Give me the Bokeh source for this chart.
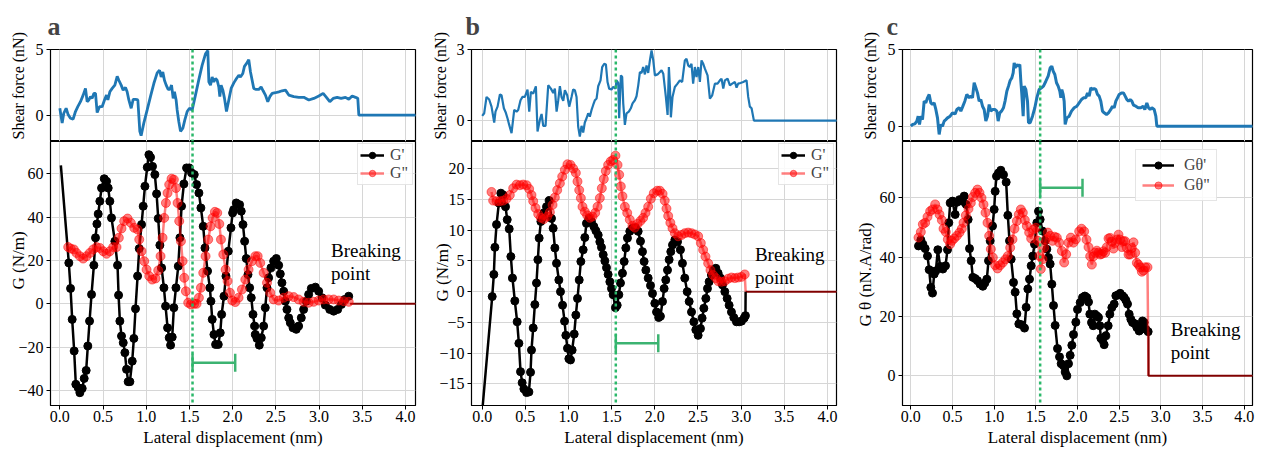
from bokeh.plotting import figure
from bokeh.layouts import row, column
from bokeh.models import (Range1d, FixedTicker, Span, Whisker, TeeHead, ColumnDataSource,
                          Legend, LegendItem, Label, Title, CustomJSTickFormatter)
from bokeh.embed import file_html
from bokeh.resources import INLINE

# ---------------- data ----------------
x_ticks = [0.0, 0.5, 1.0, 1.5, 2.0, 2.5, 3.0, 3.5, 4.0]

# panel a : shear force
sa_x = [0.0,0.027,0.046,0.073,0.097,0.123,0.154,0.181,0.208,0.239,
        0.270,0.297,0.316,0.336,0.355,0.374,0.394,0.413,0.432,0.459,
        0.490,0.517,0.540,0.556,0.579,0.606,0.637,0.664,0.683,0.710,
        0.733,0.760,0.779,0.799,0.826,0.849,0.876,0.903,0.926,0.941,
        0.972,1.011,1.049,1.088,1.127,1.154,1.173,1.192,1.211,1.231,
        1.254,1.273,1.293,1.312,1.327,1.346,1.358,1.377,1.397,1.424,
        1.447,1.474,1.501,1.532,1.570,1.609,1.647,1.686,1.713,1.725,
        1.744,1.763,1.782,1.802,1.821,1.840,1.852,1.867,1.887,1.906,
        1.929,1.956,1.983,2.014,2.045,2.072,2.091,2.118,2.137,2.160,
        2.187,2.207,2.226,2.245,2.272,2.303,2.330,2.353,2.380,2.407,
        2.431,2.458,2.496,2.535,2.573,2.612,2.650,2.708,2.766,2.824,
        2.882,2.940,2.998,3.048,3.086,3.125,3.164,3.210,3.256,3.306,
        3.345,3.384,3.422,3.449,3.461,4.2]
sa_y = [0.53,-0.60,0.15,0.53,0.03,-0.23,-0.30,0.28,0.65,1.03,
        1.53,2.04,1.03,1.16,1.41,1.28,1.66,1.66,0.20,0.65,
        0.65,1.16,1.53,1.16,1.78,2.04,2.29,2.96,2.66,2.29,
        1.91,2.11,1.78,1.16,0.53,1.21,1.21,1.16,-1.23,-1.56,
        -0.60,0.40,1.41,2.41,3.22,3.42,2.91,3.29,2.66,2.29,
        1.96,1.96,2.29,1.28,1.78,1.16,0.40,-0.48,-1.23,-0.98,
        -0.35,0.28,0.53,0.40,1.53,2.71,3.79,4.67,4.92,2.54,
        2.29,2.91,2.54,2.79,2.66,2.16,1.41,2.29,1.91,1.28,
        0.28,1.16,2.04,2.46,2.79,3.04,2.91,3.17,3.72,3.92,
        4.22,3.29,2.66,2.04,1.96,1.96,2.16,1.86,1.53,1.03,
        1.41,1.66,1.71,1.78,1.86,1.91,1.53,1.41,1.36,1.36,
        1.16,1.28,1.46,1.66,1.36,1.03,1.28,1.36,1.28,1.36,
        1.21,1.46,1.36,1.28,0.0,0.0]

# panel a : G' and G''
ga1_lead_x = [0.012]
ga1_lead_y = [64.0]
ga1_x = [0.104,0.124,0.143,0.166,0.185,0.212,0.232,0.259,0.282,0.305,
         0.324,0.344,0.367,0.394,0.413,0.429,0.444,0.463,0.483,0.514,
         0.541,0.560,0.579,0.598,0.637,0.668,0.680,0.695,0.714,0.734,
         0.753,0.772,0.791,0.811,0.838,0.857,0.876,0.900,0.919,0.946,
         0.965,0.985,1.012,1.031,1.050,1.073,1.100,1.120,1.139,1.158,
         1.178,1.205,1.224,1.247,1.266,1.282,1.301,1.320,1.344,1.371,
         1.390,1.409,1.436,1.467,1.498,1.525,1.556,1.583,1.610,1.633,
         1.660,1.680,1.710,1.737,1.749,1.764,1.784,1.803,1.834,1.857,
         1.873,1.900,1.923,1.950,1.981,2.000,
         2.012,2.042,2.081,2.100,2.120,2.139,2.158,2.178,2.197,2.216,
         2.236,2.255,2.263,2.282,2.309,2.332,2.359,2.378,2.398,2.417,
         2.444,2.475,2.506,2.533,2.552,2.571,2.591,2.610,2.629,2.649,
         2.668,2.699,2.737,2.764,2.795,2.822,2.853,2.880,2.911,2.958,
         2.996,3.035,3.073,3.124,3.170,3.216,3.259,3.297,3.344]
ga1_y = [18.9,7.1,-7.2,-21.8,-37.2,-38.8,-41.1,-39.1,-34.5,-30.8,
         -19.5,-8.0,4.3,17.8,30.5,36.9,41.5,47.4,53.5,57.8,
         56.6,53.5,47.4,39.7,28.9,17.8,4.0,-8.0,-14.9,-18.0,
         -22.6,-30.3,-36.0,-36.0,-26.5,-16.0,-2.3,12.8,25.5,36.6,
         45.1,54.3,63.1,68.9,67.7,63.5,59.7,50.8,39.4,27.1,
         16.6,7.4,-1.1,-11.1,-15.7,-19.1,-15.4,-1.8,7.4,17.4,
         30.5,45.1,55.4,62.8,62.8,60.5,59.7,55.1,51.2,44.3,
         35.8,25.8,15.1,7.4,1.2,-7.2,-14.2,-18.8,-18.8,-13.4,
         -4.9,3.5,12.8,24.3,35.1,42.0,
         43.5,46.6,45.8,42.8,36.6,28.9,20.9,13.5,7.4,2.8,
         -4.9,-10.3,-14.2,-16.0,-19.1,-15.7,-10.3,-1.8,7.4,12.0,
         16.6,19.7,20.9,17.8,13.8,9.7,5.8,1.2,-2.6,-6.5,
         -8.8,-11.1,-11.8,-10.3,-6.5,-2.6,1.2,4.3,7.1,7.7,
         5.8,2.8,-0.6,-2.6,-3.4,-2.6,-0.3,2.0,3.5]
ga2_x = [0.097,0.127,0.162,0.193,0.232,0.270,0.309,0.347,0.386,0.425,
         0.463,0.502,0.541,0.579,0.618,0.656,0.683,0.714,0.745,0.784,
         0.822,0.861,0.900,0.919,0.946,0.977,1.004,1.035,1.069,1.108,
         1.139,1.166,1.189,1.208,1.228,1.247,1.266,1.293,1.320,1.344,
         1.363,1.382,1.402,1.421,1.440,1.459,1.486,1.517,1.556,1.583,
         1.610,1.633,1.660,1.687,1.718,1.745,1.768,1.795,1.822,1.846,
         1.865,1.892,1.919,1.942,1.969,1.996,2.031,2.069,2.108,2.147,
         2.185,2.224,2.263,2.290,2.320,2.359,2.398,2.436,2.475,2.533,
         2.591,2.649,2.707,2.764,2.822,2.880,2.938,2.996,3.054,3.112,
         3.170,3.228,3.286,3.344]
ga2_y = [26.2,25.5,25.1,23.5,22.0,20.9,22.0,23.5,25.1,26.2,
         25.8,24.3,23.1,24.3,26.2,26.2,30.5,34.8,38.2,39.4,
         37.4,35.1,34.3,29.7,24.3,19.7,15.8,12.8,11.2,11.7,
         15.4,22.0,30.5,39.7,46.6,51.2,55.1,57.8,57.4,53.5,
         46.6,38.2,28.9,19.7,12.0,5.8,0.5,-0.3,0.0,0.0,
         2.8,7.4,14.3,22.0,29.7,35.8,39.7,42.5,42.0,36.9,
         29.7,22.8,15.8,10.5,5.1,1.5,0.8,2.8,6.6,11.2,
         15.8,19.7,22.0,22.0,18.9,14.3,9.7,5.1,2.0,1.5,
         2.8,3.5,3.1,2.0,0.9,0.5,0.9,1.5,2.0,2.0,
         2.0,1.5,1.2,0.9]
break_a_x = [3.36, 4.3]
break_a_y = [0.0, 0.0]

# panel b : shear force
sb_x = [0.0,0.023,0.050,0.081,0.108,0.139,0.154,0.178,0.205,0.224,
        0.251,0.274,0.293,0.313,0.340,0.371,0.398,0.417,0.444,0.467,
        0.494,0.525,0.545,0.564,0.591,0.622,0.641,0.668,0.688,0.707,
        0.734,0.765,0.796,0.823,0.842,0.862,0.881,0.900,0.919,0.939,
        0.958,0.985,1.008,1.035,1.054,1.074,1.093,1.112,1.131,1.151,
        1.170,1.189,1.209,1.228,1.247,1.267,1.286,1.306,1.325,1.344,
        1.371,1.390,1.414,1.433,1.452,1.471,1.498,1.518,1.545,1.556,
        1.576,1.587,1.607,1.622,1.634,1.653,1.672,1.699,1.722,1.742,
        1.769,1.788,1.808,1.827,1.846,1.865,1.885,1.904,1.923,1.943,
        1.962,1.981,2.001,2.032,2.059,2.078,2.098,2.128,2.148,2.163,
        2.175,2.186,2.205,2.232,2.263,2.290,2.317,2.348,2.367,2.387,
        2.406,2.425,2.444,2.464,2.483,2.503,2.522,2.541,2.561,2.580,
        2.611,2.638,2.665,2.696,2.727,2.754,2.773,2.793,2.812,2.843,
        2.870,2.897,2.928,2.947,2.966,2.993,3.024,3.063,3.082,3.101,
        3.121,3.148,4.2]
sb_y = [0.20,0.31,1.00,0.89,0.59,-0.08,0.38,0.59,1.10,1.07,
        0.52,0.33,0.10,-0.18,-0.53,0.45,0.38,0.45,0.86,1.00,
        1.00,1.31,0.38,1.21,1.14,1.45,-0.46,0.03,0.28,-0.22,
        -0.22,1.49,1.35,1.17,1.35,0.38,0.86,1.45,1.00,0.84,
        1.28,1.07,0.59,1.00,1.31,1.28,1.00,-0.25,-0.67,-0.22,
        -0.50,-0.08,0.10,0.31,0.17,0.45,0.66,0.86,0.93,1.45,
        1.70,2.26,2.40,2.37,1.63,1.35,1.31,1.42,1.35,1.70,
        1.59,0.10,1.91,1.84,0.73,-0.18,0.31,0.38,0.52,0.73,
        0.86,1.03,1.49,2.05,2.01,2.26,1.95,2.33,2.01,2.54,
        2.96,2.57,1.91,1.95,2.05,2.12,1.98,1.00,0.24,2.26,
        1.42,0.14,1.00,1.42,1.56,1.70,1.63,2.54,2.61,2.33,
        2.26,2.40,1.56,2.26,1.84,2.26,1.63,2.54,2.40,2.19,
        1.91,0.93,1.07,1.56,1.56,1.70,1.77,1.35,1.70,1.77,
        1.49,1.56,1.63,1.39,1.56,1.59,1.63,1.70,1.00,0.59,
        0.52,0.0,0.0]

# panel b : G' and G''
gb1_lead_x = [0.0]
gb1_lead_y = [-19.5]
gb1_x = [0.116,0.135,0.147,0.166,0.193,0.216,0.243,0.270,0.290,0.313,
         0.332,0.351,0.378,0.405,0.425,0.444,0.463,0.483,0.514,0.541,
         0.560,0.571,0.591,0.610,0.629,0.645,0.660,0.680,0.699,0.714,
         0.745,0.776,0.803,0.822,0.842,0.861,0.888,0.907,0.931,0.954,
         0.969,0.988,1.004,1.023,1.042,1.066,1.085,1.104,1.124,1.143,
         1.170,1.189,1.208,1.236,1.266,1.293,1.317,1.344,1.363,1.382,
         1.402,1.421,1.440,1.459,1.479,1.498,1.517,1.544,1.564,1.583,
         1.602,1.625,1.645,1.664,1.683,1.710,1.741,1.776,1.807,1.834,
         1.857,1.876,1.896,1.923,1.950,1.973,2.000,2.020,2.045,2.065,
         2.089,2.108,2.127,2.147,2.166,2.185,2.205,2.232,2.263,2.297,
         2.320,2.347,2.375,2.398,2.425,2.452,2.475,2.502,2.529,2.548,
         2.568,2.591,2.610,2.629,2.656,2.680,2.707,2.734,2.761,2.784,
         2.811,2.838,2.861,2.888,2.915,2.946,2.977,3.004,3.035,3.050]
gb1_y = [-0.8,2.8,7.2,10.9,14.4,16.0,15.7,13.8,11.7,10.2,
         5.7,2.2,-1.5,-4.9,-8.4,-13.0,-14.8,-15.8,-16.4,-16.3,
         -13.1,-9.5,-5.9,-2.1,1.4,5.2,8.7,11.4,12.0,12.8,
         13.8,14.8,11.9,10.3,7.1,4.6,1.9,0.0,-2.2,-4.8,
         -7.1,-9.2,-10.9,-11.1,-9.5,-6.9,-3.8,-1.1,1.9,4.9,
         6.8,8.8,11.1,11.9,11.4,10.6,9.9,9.2,8.1,7.2,
         6.0,5.0,3.9,2.8,1.6,0.5,-0.5,-2.6,-2.2,-0.5,
         1.4,3.0,4.9,7.1,8.7,9.8,10.3,10.4,9.8,8.2,
         6.5,4.9,3.5,2.2,1.0,-0.3,-1.9,-3.3,-4.2,-4.0,
         -1.6,0.5,1.9,3.5,5.2,6.5,7.6,8.4,8.1,6.8,
         4.6,2.2,0.0,-1.6,-3.3,-4.9,-6.2,-7.1,-6.0,-4.3,
         -2.7,-1.1,0.5,1.6,2.7,3.5,3.8,3.0,2.2,1.1,
         0.0,-1.1,-2.2,-3.3,-4.2,-4.9,-4.9,-4.8,-4.3,-3.9]
gb1_tail_x = [3.052]
gb1_tail_y = [0.0]
gb2_x = [0.108,0.127,0.166,0.205,0.243,0.282,0.320,0.359,0.398,0.436,
         0.475,0.514,0.544,0.571,0.591,0.618,0.649,0.680,0.714,0.753,
         0.784,0.815,0.842,0.869,0.900,0.927,0.958,0.988,1.023,1.054,
         1.085,1.104,1.124,1.143,1.162,1.189,1.216,1.247,1.278,1.309,
         1.336,1.363,1.386,1.409,1.432,1.459,1.490,1.517,1.544,1.568,
         1.587,1.606,1.625,1.653,1.680,1.710,1.741,1.768,1.799,1.834,
         1.865,1.892,1.923,1.954,1.988,2.027,2.058,2.090,2.115,2.135,
         2.155,2.180,2.205,2.232,2.270,2.309,2.347,2.386,2.425,2.463,
         2.502,2.533,2.560,2.587,2.618,2.645,2.676,2.707,2.734,2.772,
         2.811,2.849,2.888,2.927,2.965,3.004,3.042]
gb2_y = [16.2,14.8,14.7,14.7,14.8,15.1,15.7,16.8,17.4,17.3,
         17.4,17.3,16.7,15.7,14.7,13.6,12.6,12.0,11.8,12.2,
         12.9,14.1,15.3,16.5,17.6,18.7,19.8,20.7,20.6,20.0,
         19.3,17.9,16.5,15.2,13.8,13.0,12.4,12.0,12.2,12.8,
         13.8,15.2,16.8,18.3,19.6,20.6,21.2,21.4,22.1,20.6,
         19.0,17.1,15.5,13.8,12.8,11.7,10.7,10.4,11.0,11.5,
         12.0,12.8,13.8,15.1,16.0,16.4,16.4,15.9,14.8,13.5,
         12.3,11.2,10.3,9.5,9.0,9.2,9.5,9.6,9.5,9.3,
         9.0,7.9,6.8,5.7,4.6,3.5,2.7,2.2,1.7,1.6,
         1.7,2.1,2.3,2.2,2.3,2.4,2.8]
gb2_tail_x = [3.052]
gb2_tail_y = [0.0]
break_b_x = [3.052, 4.3]
break_b_y = [0.0, 0.0]

# panel c : shear force
sc_x = [0.0,0.020,0.048,0.072,0.088,0.104,0.120,0.140,0.160,0.180,
        0.200,0.220,0.240,0.260,0.280,0.300,0.320,0.340,0.360,0.380,
        0.400,0.420,0.440,0.472,0.500,0.532,0.552,0.580,0.600,0.620,
        0.648,0.672,0.700,0.720,0.740,0.760,0.780,0.800,0.820,0.840,
        0.860,0.880,0.900,0.920,0.940,0.960,0.980,1.008,1.032,1.048,
        1.068,1.088,1.112,1.132,1.152,1.172,1.192,1.212,1.228,1.240,
        1.252,1.268,1.288,1.308,1.320,1.332,1.348,1.360,1.380,1.400,
        1.412,1.432,1.460,1.488,1.512,1.540,1.568,1.592,1.620,1.648,
        1.672,1.692,1.708,1.728,1.748,1.768,1.788,1.800,1.812,1.828,
        1.840,1.852,1.872,1.900,1.928,1.960,1.992,2.020,2.048,2.072,
        2.100,2.120,2.140,2.160,2.180,2.200,2.220,2.240,2.260,2.280,
        2.300,2.320,2.348,2.372,2.400,2.420,2.440,2.460,2.480,2.500,
        2.528,2.552,2.572,2.592,2.612,2.632,2.652,2.672,2.700,2.728,
        2.760,2.788,2.808,2.832,2.852,2.872,2.892,2.920,2.940,2.952,
        4.2]
sc_y = [0.0,0.11,0.15,0.33,0.65,0.11,0.65,0.43,1.63,1.52,
        1.85,2.07,1.52,1.41,1.52,1.09,0.54,-0.54,0.11,0.0,
        0.33,0.43,0.54,0.65,0.87,0.80,1.09,1.20,0.98,1.24,
        1.63,2.07,1.85,1.96,1.85,2.83,2.50,2.17,1.63,1.74,
        1.30,1.09,0.33,0.65,1.41,0.98,1.09,1.09,0.98,0.33,
        0.87,0.98,1.20,1.67,2.28,2.61,2.98,3.15,3.48,4.13,
        3.80,4.02,3.91,4.02,2.93,2.07,0.65,2.61,2.39,1.63,
        0.22,0.22,0.65,1.20,1.85,2.39,2.50,2.61,2.93,3.26,
        3.80,3.91,3.59,3.37,2.83,2.61,2.28,1.85,2.39,2.07,
        1.63,0.11,0.54,0.65,0.98,1.20,1.30,1.52,1.74,1.85,
        1.85,2.17,1.96,2.50,2.39,2.46,2.39,2.07,1.96,1.63,
        0.98,0.87,0.76,0.87,1.09,1.30,1.20,1.63,1.85,2.07,
        2.17,2.17,1.96,1.74,1.63,1.74,1.63,1.37,1.30,1.20,
        1.20,1.30,1.09,1.52,1.20,1.09,1.20,1.09,0.65,0.0,
        0.0]

# panel c : G theta' and G theta''
gc1_x = [0.092,0.120,0.144,0.172,0.200,0.220,0.240,0.260,0.280,0.300,
         0.324,0.352,0.384,0.416,0.440,0.456,0.472,0.500,0.532,0.552,
         0.584,0.612,0.640,0.664,0.688,0.704,0.724,0.744,0.772,0.800,
         0.832,0.864,0.888,0.912,0.932,0.952,0.980,1.000,1.012,1.028,
         1.052,1.080,1.112,1.144,1.164,1.184,1.204,1.232,1.252,1.272,
         1.296,1.332,1.364,1.384,1.404,1.424,1.444,1.464,1.484,1.512,
         1.532,1.552,1.580,1.612,1.632,1.652,1.672,1.692,1.712,1.732,
         1.760,1.784,1.804,1.832,1.852,1.872,1.892,1.912,1.932,1.952,
         1.980,2.000,2.032,2.060,2.088,2.112,2.132,2.148,2.168,2.188,
         2.208,2.232,2.252,2.268,2.280,2.300,2.320,2.340,2.368,2.388,
         2.412,2.440,2.460,2.488,2.512,2.540,2.560,2.580,2.600,2.620,
         2.640,2.660,2.688,2.712,2.740,2.760,2.780,2.800,2.820,2.848]
gc1_y = [43.8,45.8,44.4,42.9,40.4,35.8,29.8,27.9,34.3,35.4,
         42.5,36.9,36.0,37.1,42.5,51.6,58.3,58.9,54.4,58.5,
         59.4,58.9,60.6,57.8,52.7,42.9,38.8,33.2,32.8,32.1,
         30.9,30.2,31.3,32.6,38.8,45.5,50.5,56.1,62.2,67.3,
         68.4,69.3,67.8,65.3,54.1,45.5,39.3,31.5,28.2,20.9,
         17.5,17.2,16.1,23.1,29.3,32.6,37.1,40.4,44.4,51.6,
         55.5,52.7,48.8,45.5,42.7,39.9,37.7,30.9,23.7,17.0,
         9.2,6.4,4.1,3.4,1.3,0.0,4.1,6.9,10.3,13.9,
         18.1,22.4,24.7,26.4,26.9,26.4,24.9,20.8,18.0,16.9,
         20.8,20.2,19.7,16.9,12.7,12.0,10.5,13.5,16.9,20.8,
         23.0,24.2,27.0,27.3,27.8,27.0,26.4,25.5,24.2,20.8,
         19.1,18.0,17.6,16.3,15.1,16.8,18.5,18.0,15.7,14.9]
gc2_x = [0.092,0.120,0.144,0.172,0.200,0.232,0.260,0.292,0.320,0.344,
         0.372,0.392,0.420,0.444,0.472,0.492,0.520,0.552,0.584,0.612,
         0.632,0.660,0.692,0.720,0.744,0.772,0.800,0.824,0.848,0.872,
         0.896,0.920,0.940,0.960,0.984,1.012,1.040,1.072,1.104,1.136,
         1.164,1.192,1.220,1.244,1.272,1.296,1.320,1.344,1.368,1.392,
         1.420,1.444,1.472,1.500,1.524,1.544,1.560,1.580,1.600,1.620,
         1.644,1.672,1.700,1.724,1.752,1.780,1.812,1.840,1.864,1.892,
         1.920,1.952,1.980,2.020,2.048,2.080,2.108,2.132,2.152,2.172,
         2.192,2.212,2.232,2.252,2.272,2.292,2.312,2.332,2.352,2.372,
         2.392,2.412,2.432,2.452,2.472,2.492,2.512,2.532,2.552,2.572,
         2.592,2.612,2.632,2.652,2.672,2.692,2.712,2.732,2.752,2.772,
         2.792,2.812,2.840]
gc2_y = [46.6,48.5,51.1,51.6,53.6,55.5,56.1,57.8,56.1,54.4,
         52.5,49.6,48.5,46.0,44.4,45.5,46.3,47.2,48.3,49.6,
         51.6,54.1,56.3,58.3,60.3,61.7,62.8,61.7,60.0,57.8,
         55.0,51.6,47.2,42.7,39.9,37.3,36.2,37.3,38.2,39.3,
         40.4,43.2,46.0,49.6,52.2,54.4,56.1,55.0,52.5,50.5,
         48.3,46.3,49.4,49.9,45.5,40.4,36.0,39.3,43.2,46.0,
         48.3,47.2,45.5,46.9,46.6,44.9,42.1,38.2,41.0,44.9,
         46.6,44.9,46.0,48.7,49.6,48.7,45.9,43.4,40.3,37.5,
         40.3,41.5,42.2,41.5,40.9,41.1,42.0,41.5,43.4,46.3,
         46.5,45.2,42.9,44.8,45.9,47.6,45.9,43.4,45.4,45.4,
         43.1,40.9,40.9,43.1,45.0,41.5,38.1,37.5,36.6,35.1,
         35.5,36.6,36.6]
gc2_tail_x = [2.852]
gc2_tail_y = [0.0]
break_c_x = [2.852, 2.852, 4.3]
break_c_y = [14.9, 0.0, 0.0]

# annotations (dotted marker line, bracket)
vline_a, vline_b, vline_c = 1.536, 1.548, 1.552
bracket_a = dict(base=[-27.2], lower=[1.536], upper=[2.03])
bracket_b = dict(base=[-8.4], lower=[1.548], upper=[2.04])
bracket_c = dict(base=[63.4], lower=[1.552], upper=[2.06])

# ---------------- style ----------------
FONT = "Liberation Serif"
BLUE = "#1f77b4"
GREEN_DOT = "#2bb86a"
GREEN = "#3cb371"
MAROON = "#800000"
GRID = "#d6d6d6"
TOP_B, TOP_H, BOT_H, BOT_B = 49, 92, 264, 46

minus_fmt = CustomJSTickFormatter(code="return (tick < 0 ? '\u2212' : '') + Math.abs(tick);")
x_fmt = CustomJSTickFormatter(code="return tick.toFixed(1);")


def base_style(p):
    p.background_fill_color = "white"
    p.border_fill_color = "white"
    p.outline_line_color = "black"
    p.outline_line_width = 1.2
    for g in (p.xgrid, p.ygrid):
        g.grid_line_color = GRID
        g.grid_line_width = 1
    for ax in (p.xaxis, p.yaxis):
        ax.major_label_text_font = FONT
        ax.major_label_text_font_size = "16px"
        ax.major_label_text_color = "black"
        ax.axis_label_text_font = FONT
        ax.axis_label_text_font_size = "17px"
        ax.axis_label_text_font_style = "normal"
        ax.axis_label_text_color = "black"
        ax.major_tick_out = 4
        ax.major_tick_in = 0
        ax.minor_tick_out = 0
        ax.minor_tick_in = 0
        ax.axis_line_color = "black"
        ax.major_tick_line_color = "black"
        ax.major_label_standoff = 3


def side_title(p, text, size, standoff, offset):
    # left-side title, reading upward, starting `offset` px above the frame bottom
    p.add_layout(Title(text=text, align="left", offset=offset, standoff=standoff,
                       text_font=FONT, text_font_size=size, text_font_style="normal",
                       text_color="black"), "left")


def make_panel(letter, letter_offset, xr, wl, wr, fw, top_yr, top_ticks, top_std,
               sx, sy, slw, bot_yr, bot_ticks, bot_lab, bot_std, bot_off,
               vline, bracket):
    xrange = Range1d(*xr)
    top = figure(frame_width=fw, frame_height=TOP_H, x_range=xrange,
                 y_range=Range1d(*top_yr), output_backend="svg",
                 toolbar_location=None, min_border_left=wl, min_border_right=wr,
                 min_border_top=TOP_B, min_border_bottom=0, title=letter)
    base_style(top)
    top.title.text_font = FONT
    top.title.text_font_size = "26px"
    top.title.text_font_style = "bold"
    top.title.align = "left"
    top.title.offset = letter_offset
    top.title.standoff = 17
    top.xaxis.visible = False
    top.xaxis.ticker = FixedTicker(ticks=x_ticks)
    top.yaxis.ticker = FixedTicker(ticks=top_ticks)
    top.yaxis.formatter = minus_fmt
    top.line(sx, sy, line_color=BLUE, line_width=slw)
    top.add_layout(Span(location=vline, dimension="height", line_color=GREEN_DOT,
                        line_width=2.5, line_dash="3 3"))
    side_title(top, "Shear force (nN)", "16px", top_std, 2)

    bot = figure(frame_width=fw, frame_height=BOT_H, x_range=xrange,
                 y_range=Range1d(*bot_yr), output_backend="svg",
                 toolbar_location=None, min_border_left=wl, min_border_right=wr,
                 min_border_top=0, min_border_bottom=BOT_B)
    base_style(bot)
    bot.xaxis.ticker = FixedTicker(ticks=x_ticks)
    bot.xaxis.formatter = x_fmt
    bot.xaxis.axis_label = "Lateral displacement (nm)"
    bot.xaxis.major_label_standoff = 1
    bot.xaxis.axis_label_standoff = 3
    bot.yaxis.ticker = FixedTicker(ticks=bot_ticks)
    bot.yaxis.formatter = minus_fmt
    bot.add_layout(Span(location=vline, dimension="height", line_color=GREEN_DOT,
                        line_width=2.5, line_dash="3 3"))
    src = ColumnDataSource(bracket)
    bot.add_layout(Whisker(source=src, base="base", lower="lower", upper="upper",
                           dimension="width", line_color=GREEN, line_width=2.5,
                           lower_head=TeeHead(size=18, line_color=GREEN, line_width=2.5),
                           upper_head=TeeHead(size=18, line_color=GREEN, line_width=2.5)))
    side_title(bot, bot_lab, "17px", bot_std, bot_off)
    return top, bot


def add_series(p, lx, ly, mx, my, color, alpha, msize):
    lr = p.line(lx, ly, line_color=color, line_alpha=alpha, line_width=2.5)
    sr = p.scatter(mx, my, size=msize, fill_color=color, line_color=color,
                   fill_alpha=alpha, line_alpha=alpha)
    return lr, sr


def add_break_text(p, x, y1, y2):
    for yy, t in ((y1, "Breaking"), (y2, "point")):
        p.add_layout(Label(x=x, y=yy, text=t, text_font=FONT, text_font_size="19px",
                           text_baseline="middle", text_color="black"))


def legend(p, labels, items, **kw):
    lg = Legend(items=[LegendItem(label=labels[0], renderers=list(items[0])),
                       LegendItem(label=labels[1], renderers=list(items[1]))], **kw)
    lg.label_text_font = FONT
    lg.label_text_font_size = "16px"
    lg.border_line_color = "#cccccc"
    lg.background_fill_alpha = 0.85
    p.add_layout(lg)


# ---------------- panel a ----------------
ta, ba = make_panel("a", -3, (-0.108, 4.117), 50, 10, 365, (-2, 5), [0, 5], 12,
                    sa_x, sa_y, 2.8, (-47, 75), [-40, -20, 0, 20, 40, 60],
                    "G (N/m)", -25, 116, vline_a, bracket_a)
ba.line(break_a_x, break_a_y, line_color=MAROON, line_width=2)
a1 = add_series(ba, ga1_lead_x + ga1_x, ga1_lead_y + ga1_y, ga1_x, ga1_y, "black", 1.0, 8)
a2 = add_series(ba, ga2_x, ga2_y, ga2_x, ga2_y, "red", 0.5, 9)
add_break_text(ba, 3.14, 24.6, 14.1)
legend(ba, ["G'", 'G"'], [a1, a2], location="top_right", margin=2, padding=2,
       spacing=0, glyph_width=24, glyph_height=16, label_height=16, label_standoff=6)

# ---------------- panel b ----------------
tb, bb = make_panel("b", -6, (-0.124, 4.105), 45, 15, 365, (-0.88, 3), [0, 3], 9,
                    sb_x, sb_y, 2.2, (-18.5, 24.4), [-15, -10, -5, 0, 5, 10, 15, 20],
                    "G (N/m)", -30, 104, vline_b, bracket_b)
bb.line(break_b_x, break_b_y, line_color=MAROON, line_width=2)
b1 = add_series(bb, gb1_lead_x + gb1_x + gb1_tail_x, gb1_lead_y + gb1_y + gb1_tail_y,
                gb1_x, gb1_y, "black", 1.0, 8)
b2 = add_series(bb, gb2_x + gb2_tail_x, gb2_y + gb2_tail_y, gb2_x, gb2_y, "red", 0.5, 9)
add_break_text(bb, 3.16, 6.0, 2.3)
legend(bb, ["G'", 'G"'], [b1, b2], location="top_right", margin=2, padding=2,
       spacing=0, glyph_width=24, glyph_height=16, label_height=16, label_standoff=6)

# ---------------- panel c ----------------
tc, bc = make_panel("c", -16, (-0.1, 4.1), 48, 16, 350, (-1, 5), [0, 5], 11,
                    sc_x, sc_y, 3.0, (-10, 79), [0, 20, 40, 60],
                    "G \u03b8 (nN.A/rad)", 4, 79, vline_c, bracket_c)
c1 = add_series(bc, gc1_x, gc1_y, gc1_x, gc1_y, "black", 1.0, 8)
c2 = add_series(bc, gc2_x + gc2_tail_x, gc2_y + gc2_tail_y, gc2_x, gc2_y, "red", 0.5, 9)
bc.line(break_c_x, break_c_y, line_color=MAROON, line_width=2)
add_break_text(bc, 3.12, 15.7, 7.8)
legend(bc, ["G\u03b8'", 'G\u03b8"'], [c1, c2], location=(233, 204), margin=0, padding=6,
       spacing=2, glyph_width=32, glyph_height=18, label_height=18, label_standoff=10)

layout = row(column(ta, ba), column(tb, bb), column(tc, bc))
open("out.html", "w").write(file_html(layout, INLINE))
